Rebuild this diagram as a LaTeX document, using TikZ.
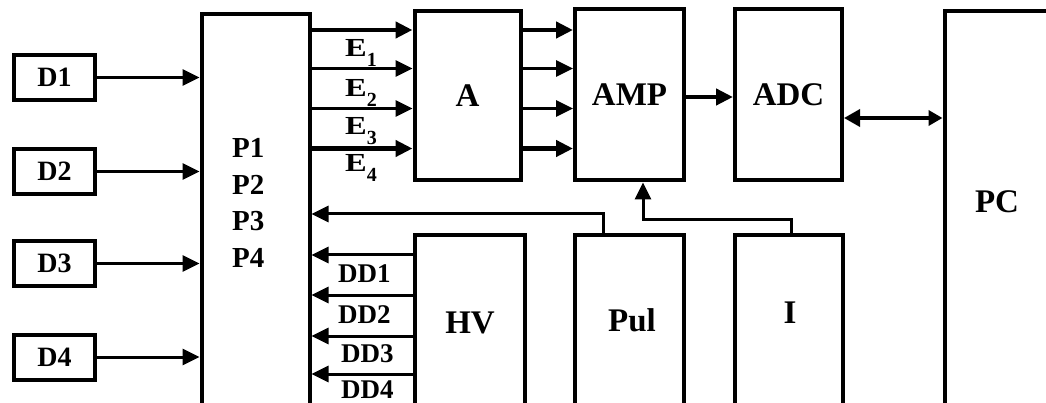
\documentclass[tikz,border=0pt]{standalone}
\usepackage{fontspec}
\setmainfont{Liberation Serif}
\usetikzlibrary{arrows.meta}
\newcommand{\Elab}[1]{\scalebox{1.25}[1]{E}\raisebox{-10pt}{\fontsize{20}{20}\selectfont #1}}
\begin{document}
\begin{tikzpicture}[x=1pt,y=-1pt,
  box/.style={draw,line width=4pt,rectangle,inner sep=0pt,outer sep=2pt},
  big/.style={font=\bfseries\fontsize{33}{36}\selectfont},
  dlbl/.style={font=\bfseries\fontsize{28}{30}\selectfont},
  plbl/.style={font=\bfseries\fontsize{29}{30}\selectfont,anchor=base west,inner sep=0pt},
  elbl/.style={font=\bfseries\fontsize{26}{30}\selectfont,anchor=base west,inner sep=0pt},
  ddlbl/.style={font=\bfseries\fontsize{27}{30}\selectfont,anchor=base west,inner sep=0pt},
  blbl/.style={font=\bfseries\fontsize{33}{36}\selectfont,anchor=base,inner sep=0pt},
  arr/.style={line width=3pt,-{Triangle[length=17pt,width=16pt]}},
  thick arr/.style={arr,line width=4.5pt}]
\useasboundingbox (0,0) rectangle (1046,403);
\clip (0,0) rectangle (1046,403);

% boxes
\node[box,dlbl,minimum width=81pt,minimum height=45pt] (D1) at (54.5,77.5) {D1};
\node[box,dlbl,minimum width=81pt,minimum height=45pt] (D2) at (54.5,171.5) {D2};
\node[box,dlbl,minimum width=81pt,minimum height=45pt] (D3) at (54.5,263.5) {D3};
\node[box,dlbl,minimum width=81pt,minimum height=45pt] (D4) at (54.5,357) {D4};
\node[box,minimum width=108pt,minimum height=415.5pt] (P) at (255.5,222.25) {};
\node[box,big,minimum width=106pt,minimum height=169pt] (A) at (467.5,96) {A};
\node[box,big,minimum width=109pt,minimum height=171pt] (AMP) at (629.5,95) {AMP};
\node[box,big,minimum width=107pt,minimum height=171pt] (ADC) at (788.5,95) {ADC};
\node[box,minimum width=125.5pt,minimum height=419pt] (PC) at (1007.25,220.5) {};
\node[box,minimum width=110.5pt,minimum height=195pt] (HV) at (469.75,332.5) {};
\node[box,minimum width=109pt,minimum height=195pt] (Pul) at (629.5,332.5) {};
\node[box,minimum width=108pt,minimum height=195pt] (I) at (789,332.5) {};

% labels
\node[plbl] (p1) at (232,158) {P1};
\node[plbl] (p2) at (232,194.5) {P2};
\node[plbl] (p3) at (232,231) {P3};
\node[plbl] (p4) at (232,267.5) {P4};
\node[blbl] (hvl) at (470,333) {HV};
\node[blbl] (pull) at (632,331) {Pul};
\node[blbl] (il) at (790,323) {I};
\node[blbl] (pcl) at (997,213) {PC};
\node[elbl] (e1) at (345,57) {\Elab{1}};
\node[elbl] (e2) at (345,97) {\Elab{2}};
\node[elbl] (e3) at (345,135) {\Elab{3}};
\node[elbl] (e4) at (345,172) {\Elab{4}};
\node[ddlbl] (dd1) at (338,282) {DD1};
\node[ddlbl] (dd2) at (338,323) {DD2};
\node[ddlbl] (dd3) at (341,362) {DD3};
\node[ddlbl] (dd4) at (341,398) {DD4};

% row coordinates
\coordinate (r1) at (0,30);
\coordinate (r2) at (0,68.5);
\coordinate (r3) at (0,108.5);
\coordinate (r4) at (0,148.5);
\coordinate (ra) at (0,97);
\coordinate (rp) at (0,118);
\coordinate (q1) at (0,255);
\coordinate (q2) at (0,295);
\coordinate (q3) at (0,336);
\coordinate (q4) at (0,374);
\coordinate (pc1) at (603,214);
\coordinate (ic1) at (791,220);
\coordinate (ic2) at (643,220);

% D -> P
\foreach \d in {D1,D2,D3,D4} \draw[arr] (\d.east) -- (\d.east -| P.west);

% P -> A
\draw[thick arr] (P.east |- r1) -- (A.west |- r1);
\draw[arr] (P.east |- r2) -- (A.west |- r2);
\draw[arr] (P.east |- r3) -- (A.west |- r3);
\draw[thick arr] (P.east |- r4) -- (A.west |- r4);

% A -> AMP
\draw[thick arr] (A.east |- r1) -- (AMP.west |- r1);
\draw[arr] (A.east |- r2) -- (AMP.west |- r2);
\draw[arr] (A.east |- r3) -- (AMP.west |- r3);
\draw[thick arr] (A.east |- r4) -- (AMP.west |- r4);

% AMP -> ADC
\draw[thick arr] (AMP.east |- ra) -- (ADC.west |- ra);

% ADC <-> PC
\draw[line width=3.5pt,{Triangle[length=16pt,width=17pt]}-{Triangle[length=14pt,width=15pt]}] (ADC.east |- rp) -- (PC.west |- rp);

% HV -> P
\draw[arr] (HV.west |- q1) -- (q1 -| P.east);
\draw[arr] (HV.west |- q2) -- (q2 -| P.east);
\draw[arr] (HV.west |- q3) -- (q3 -| P.east);
\draw[arr] (HV.west |- q4) -- (q4 -| P.east);

% Pul -> P
\draw[arr] (Pul.north -| pc1) -- (pc1) -- (pc1 -| P.east);

% I -> AMP
\draw[arr,line join=miter] (I.north -| ic1) -- (ic1) -- (ic2) -- (ic2 |- AMP.south);
\end{tikzpicture}
\end{document}
